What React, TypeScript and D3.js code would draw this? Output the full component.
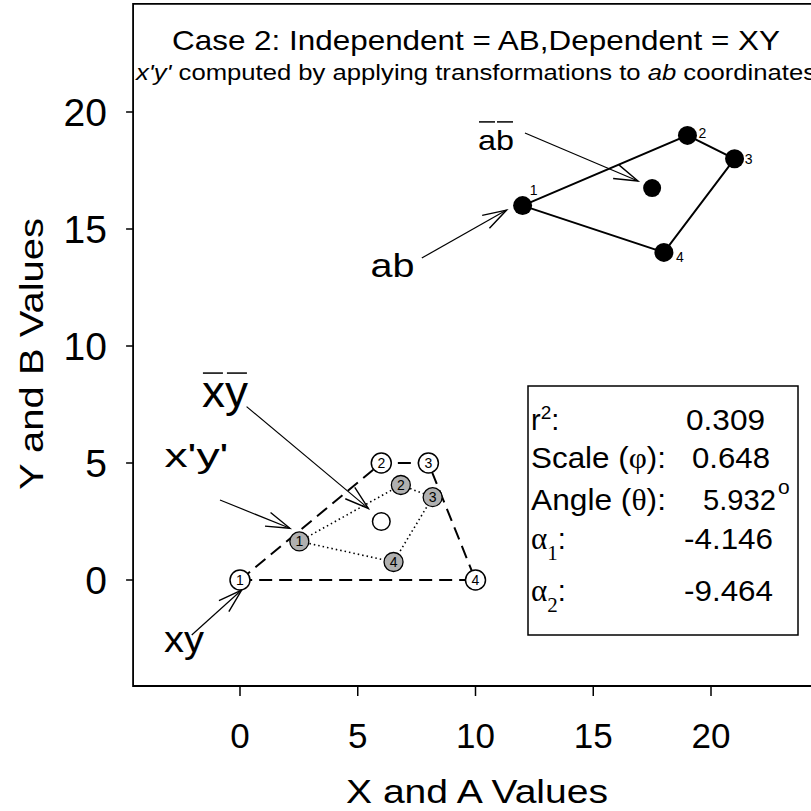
import React from 'react';
import * as d3 from 'd3';

// ---------- data ----------
const xTicks = [0, 5, 10, 15, 20];
const yTicks = [0, 5, 10, 15, 20];

const abIds = ['1', '2', '3', '4'];
const abX = [12, 19, 21, 18];
const abY = [16, 19, 18, 14];
const abMean = [17.5, 16.75];

const xyIds = ['1', '2', '3', '4'];
const xyX = [0, 6, 8, 10];
const xyY = [0, 5, 5, 0];
const xyMean = [6, 2.5];

const xpIds = ['1', '2', '3', '4'];
const xpX = [2.52, 6.83, 8.18, 6.52];
const xpY = [1.65, 4.06, 3.54, 0.77];

const statLabels = ['r2', 'Scale (φ):', 'Angle (θ):', 'α1', 'α2'];
const statValues = ['0.309', '0.648', '5.932', '-4.146', '-9.464'];

// annotation arrows, data units: [tailX, tailY, headX, headY]
const arrowAb = [7.72, 13.76, 11.32, 15.81];
const arrowAbBar = [12.1, 19.1, 16.9, 17.05];
const arrowXy = [-2.05, -2.35, 0.07, -0.43];
const arrowXpYp = [-0.85, 3.42, 2.12, 2.21];
const arrowXyBar = [0.28, 7.41, 5.45, 3.06];

// annotation label anchors, data units
const labelAb = [6.48, 12.95];
const labelAbBar = [10.87, 18.38];
const labelXy = [-2.38, -3.08];
const labelXpYp = [-1.85, 4.83];
const labelXyBar = [-0.64, 7.39];

const title = 'Case 2: Independent = AB,Dependent = XY';
const xTitle = 'X and A Values';
const yTitle = 'Y and B Values';

// ---------- layout ----------
const W = 811;
const H = 811;
const FONT = "'Liberation Sans', Arial, Helvetica, sans-serif";
const SERIF = "'Liberation Serif', 'Times New Roman', serif";

const x = d3.scaleLinear().domain([0, 20]).range([240, 711]);
const y = d3.scaleLinear().domain([0, 20]).range([580, 112]);
const xDom = [-4.54, 25];
const yDom = [-4.53, 24.62];

function Arrow({ a }: { a: number[] }) {
  const x1 = x(a[0]), y1 = y(a[1]), x2 = x(a[2]), y2 = y(a[3]);
  const ang = Math.atan2(y2 - y1, x2 - x1);
  const L = 25, d = 0.3;
  const b1 = [x2 - L * Math.cos(ang - d), y2 - L * Math.sin(ang - d)];
  const b2 = [x2 - L * Math.cos(ang + d), y2 - L * Math.sin(ang + d)];
  return (
    <g stroke="#000" fill="none">
      <line x1={x1} y1={y1} x2={x2} y2={y2} strokeWidth={1.2} />
      <polyline points={`${b1[0]},${b1[1]} ${x2},${y2} ${b2[0]},${b2[1]}`} strokeWidth={1.4} />
    </g>
  );
}

export default function App() {
  const abPath = d3.line<number>().x((i) => x(abX[i])).y((i) => y(abY[i]))([0, 1, 2, 3, 0]);
  const xyPath = d3.line<number>().x((i) => x(xyX[i])).y((i) => y(xyY[i]))([0, 1, 2, 3, 0]);
  const xpPath = d3.line<number>().x((i) => x(xpX[i])).y((i) => y(xpY[i]))([0, 1, 2, 3, 0]);

  const left = x(xDom[0]);
  const right = x(xDom[1]);
  const top = y(yDom[1]);
  const bottom = y(yDom[0]);

  const abLabelOff = [
    [11, -11],
    [15, 3],
    [14, 5],
    [16, 10],
  ];

  const statBase = [430, 468, 510, 549, 601];
  const statValX = [686, 692, 703, 684, 684];
  const statValW = [79, 78, 73, 89, 89];

  return (
    <svg
      width={W}
      height={H}
      viewBox={`0 0 ${W} ${H}`}
      style={{ position: 'absolute', left: 0, top: 0, background: '#fff' }}
      fontFamily={FONT}
    >
      <rect x={0} y={0} width={W} height={H} fill="#fff" />
      {/* frame */}
      <path
        d={`M${right},${top} L${left},${top} L${left},${bottom} L${right},${bottom}`}
        fill="none"
        stroke="#000"
        strokeWidth={1.8}
      />
      {/* y ticks */}
      {yTicks.map((t) => (
        <g key={'yt' + t}>
          <line x1={left - 7} x2={left} y1={y(t)} y2={y(t)} stroke="#000" strokeWidth={1.5} />
          <text x={107} y={y(t) + 14} textAnchor="end" fontSize={39}>
            {t}
          </text>
        </g>
      ))}
      {/* x ticks */}
      {xTicks.map((t) => (
        <g key={'xt' + t}>
          <line x1={x(t)} x2={x(t)} y1={bottom} y2={bottom + 10} stroke="#000" strokeWidth={1.5} />
          <text x={x(t)} y={748} textAnchor="middle" fontSize={35}>
            {t}
          </text>
        </g>
      ))}
      {/* axis titles */}
      <text x={477} y={803} textAnchor="middle" fontSize={33} textLength={262} lengthAdjust="spacingAndGlyphs">
        {xTitle}
      </text>
      <text
        transform={`translate(43,354) rotate(-90)`}
        textAnchor="middle"
        fontSize={34}
        textLength={272}
        lengthAdjust="spacingAndGlyphs"
      >
        {yTitle}
      </text>
      {/* titles */}
      <text x={476} y={50} textAnchor="middle" fontSize={28} textLength={608} lengthAdjust="spacingAndGlyphs">
        {title}
      </text>
      <text x={136} y={80} fontSize={22} textLength={680} lengthAdjust="spacingAndGlyphs">
        <tspan fontStyle="italic">x'y'</tspan>
        <tspan> computed by applying transformations to </tspan>
        <tspan fontStyle="italic">ab</tspan>
        <tspan> coordinates</tspan>
      </text>

      {/* ab polygon */}
      <path d={abPath || ''} fill="none" stroke="#000" strokeWidth={2} />
      {abIds.map((id, i) => (
        <g key={'ab' + id}>
          <circle cx={x(abX[i])} cy={y(abY[i])} r={9.5} fill="#000" />
          <text x={x(abX[i]) + abLabelOff[i][0]} y={y(abY[i]) + abLabelOff[i][1]} fontSize={14} textAnchor="middle">
            {id}
          </text>
        </g>
      ))}
      <circle cx={x(abMean[0])} cy={y(abMean[1])} r={9} fill="#000" />

      {/* xy polygon */}
      <path d={xyPath || ''} fill="none" stroke="#000" strokeWidth={2} strokeDasharray="13,7" />
      {/* x'y' polygon */}
      <path d={xpPath || ''} fill="none" stroke="#000" strokeWidth={1.6} strokeDasharray="1.5,3" />

      {xyIds.map((id, i) => (
        <g key={'xy' + id}>
          <circle cx={x(xyX[i])} cy={y(xyY[i])} r={10} fill="#fff" stroke="#000" strokeWidth={1.5} />
          <text x={x(xyX[i])} y={y(xyY[i]) + 5} fontSize={14} textAnchor="middle">
            {id}
          </text>
        </g>
      ))}
      {xpIds.map((id, i) => (
        <g key={'xp' + id}>
          <circle cx={x(xpX[i])} cy={y(xpY[i])} r={9.5} fill="#b0b0b0" stroke="#000" strokeWidth={1.3} />
          <text x={x(xpX[i])} y={y(xpY[i]) + 5} fontSize={14} textAnchor="middle">
            {id}
          </text>
        </g>
      ))}
      <circle cx={x(xyMean[0])} cy={y(xyMean[1])} r={8.8} fill="#fff" stroke="#000" strokeWidth={1.5} />

      {/* annotations */}
      <Arrow a={arrowAb} />
      <Arrow a={arrowAbBar} />
      <Arrow a={arrowXy} />
      <Arrow a={arrowXpYp} />
      <Arrow a={arrowXyBar} />

      <text x={x(labelAb[0])} y={y(labelAb[1])} fontSize={33} textAnchor="middle" textLength={44} lengthAdjust="spacingAndGlyphs">
        ab
      </text>
      <g>
        <text x={x(labelAbBar[0])} y={y(labelAbBar[1])} fontSize={28} textAnchor="middle" textLength={36} lengthAdjust="spacingAndGlyphs">
          ab
        </text>
        <line x1={x(labelAbBar[0]) - 17} x2={x(labelAbBar[0]) - 1} y1={y(labelAbBar[1]) - 28} y2={y(labelAbBar[1]) - 28} stroke="#000" strokeWidth={1.5} />
        <line x1={x(labelAbBar[0]) + 1} x2={x(labelAbBar[0]) + 17} y1={y(labelAbBar[1]) - 28} y2={y(labelAbBar[1]) - 28} stroke="#000" strokeWidth={1.5} />
      </g>
      <text x={x(labelXy[0])} y={y(labelXy[1])} fontSize={37} textAnchor="middle" textLength={40} lengthAdjust="spacingAndGlyphs">
        xy
      </text>
      <text x={x(labelXpYp[0])} y={y(labelXpYp[1])} fontSize={34} textAnchor="middle" textLength={64} lengthAdjust="spacingAndGlyphs">
        x'y'
      </text>
      <g>
        <text x={x(labelXyBar[0])} y={y(labelXyBar[1])} fontSize={45} textAnchor="middle" textLength={46} lengthAdjust="spacingAndGlyphs">
          xy
        </text>
        <line x1={x(labelXyBar[0]) - 22} x2={x(labelXyBar[0]) - 2} y1={y(labelXyBar[1]) - 34} y2={y(labelXyBar[1]) - 34} stroke="#000" strokeWidth={1.5} />
        <line x1={x(labelXyBar[0]) + 2} x2={x(labelXyBar[0]) + 22} y1={y(labelXyBar[1]) - 34} y2={y(labelXyBar[1]) - 34} stroke="#000" strokeWidth={1.5} />
      </g>

      {/* stats box */}
      <rect x={528} y={386} width={270} height={249} fill="#fff" stroke="#000" strokeWidth={1.5} />
      <g fontSize={29}>
        <text x={531} y={statBase[0]}>
          {statLabels[0][0]}
          <tspan fontSize={19} dy={-11}>{statLabels[0][1]}</tspan>
          <tspan dy={11}>:</tspan>
        </text>
        <text x={531} y={statBase[1]} textLength={135} lengthAdjust="spacingAndGlyphs">
          Scale (<tspan fontFamily={SERIF}>φ</tspan>):
        </text>
        <text x={531} y={statBase[2]} textLength={135} lengthAdjust="spacingAndGlyphs">
          Angle (<tspan fontFamily={SERIF}>θ</tspan>):
        </text>
        {[3, 4].map((k) => (
          <text key={'al' + k} x={531} y={statBase[k]}>
            <tspan fontFamily={SERIF} fontSize={31}>{statLabels[k][0]}</tspan>
            <tspan fontFamily={SERIF} fontSize={21} dy={11}>{statLabels[k][1]}</tspan>
            <tspan dy={-11}>:</tspan>
          </text>
        ))}
        {statValues.map((v, k) => (
          <g key={'sv' + k}>
            <text x={statValX[k]} y={statBase[k]} textLength={statValW[k]} lengthAdjust="spacingAndGlyphs">
              {v}
            </text>
            {k === 2 ? (
              <text x={statValX[k] + statValW[k] + 2} y={statBase[k] - 16} fontSize={21}>
                o
              </text>
            ) : null}
          </g>
        ))}
      </g>
    </svg>
  );
}
